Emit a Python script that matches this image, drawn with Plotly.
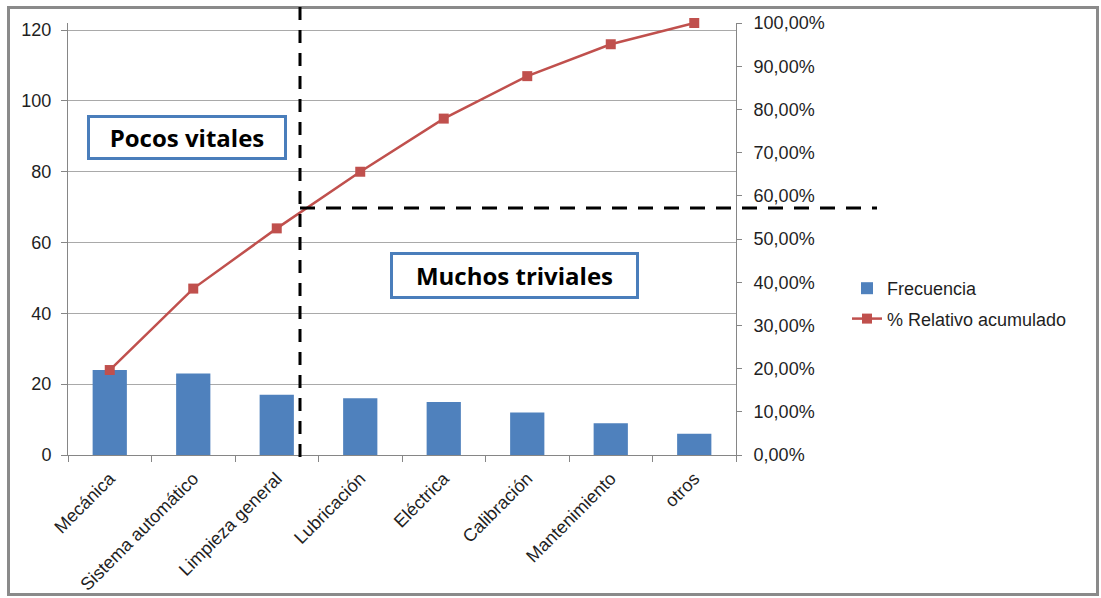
import plotly.graph_objects as go

# Pareto data: failure causes, frequency and cumulative relative percentage
categorias = ["Mecánica", "Sistema automático", "Limpieza general", "Lubricación",
              "Eléctrica", "Calibración", "Mantenimiento", "otros"]
frecuencia = [24, 23, 17, 16, 15, 12, 9, 6]
porcentaje_acumulado = [0.1967, 0.3852, 0.5246, 0.6557, 0.7787, 0.8770, 0.9508, 1.0000]
ticks_frecuencia = [0, 20, 40, 60, 80, 100, 120]

W, H = 1101, 598
L, R, T, B = 68, 736, 23, 455  # plot area in pixels


def px(x):
    return (x - L) / (R - L)


def py(y):
    return (B - y) / (B - T)


FONT = "Liberation Sans, Arial, sans-serif"
BOX_FONT = "Open Sans, sans-serif"
TXT = "#1f1f1f"
AXIS = "#868686"
GRID = "#a9a9a9"

fig = go.Figure()
fig.add_trace(go.Bar(
    x=categorias, y=frecuencia, name="Frecuencia",
    marker=dict(color="#4f81bd", line=dict(color="#4f81bd", width=0)),
    width=0.41, legendgroup="a",
))
fig.add_trace(go.Scatter(
    x=categorias, y=porcentaje_acumulado, name="% Relativo acumulado", yaxis="y2",
    mode="lines+markers",
    line=dict(color="#c0504d", width=2.5),
    marker=dict(symbol="square", size=10, color="#c0504d"),
    cliponaxis=False,
    legendgroup="b",
))

shapes = [
    # outer frame
    dict(type="rect", xref="paper", yref="paper",
         x0=px(8.5), x1=px(1097.5), y0=py(594.5), y1=py(7.5),
         line=dict(color="#8a8a8a", width=3), layer="above"),
    # vertical divider
    dict(type="line", xref="paper", yref="paper",
         x0=px(300), x1=px(300), y0=py(457), y1=py(6),
         line=dict(color="black", width=3, dash="13px,10px"), layer="above"),
    # horizontal divider
    dict(type="line", xref="paper", yref="paper",
         x0=px(300), x1=px(877), y0=py(208), y1=py(208),
         line=dict(color="black", width=3, dash="15px,11px"), layer="above"),
]

annotations = [
    dict(text="<b>Pocos vitales</b>", xref="paper", yref="paper",
         x=px(187), y=py(137.5), xanchor="center", yanchor="middle", showarrow=False,
         font=dict(family=BOX_FONT, size=24, color="black"),
         bgcolor="white", bordercolor="#4a7ebb", borderwidth=3, borderpad=0,
         width=194, height=39),
    dict(text="<b>Muchos triviales</b>", xref="paper", yref="paper",
         x=px(514.5), y=py(275.5), xanchor="center", yanchor="middle", showarrow=False,
         font=dict(family=BOX_FONT, size=24, color="black"),
         bgcolor="white", bordercolor="#4a7ebb", borderwidth=3, borderpad=0,
         width=243, height=41),
]

fig.update_layout(
    width=W, height=H,
    margin=dict(l=L, r=W - R, t=T, b=H - B, pad=0, autoexpand=False),
    paper_bgcolor="white", plot_bgcolor="white",
    separators=", ",
    font=dict(family=FONT, size=18, color=TXT),
    showlegend=True,
    legend=dict(x=px(847), y=py(270), xanchor="left", yanchor="top",
                font=dict(family=FONT, size=18, color=TXT),
                bgcolor="rgba(0,0,0,0)", tracegroupgap=4, itemwidth=30),
    bargap=0.59,
    xaxis=dict(type="category", range=[-0.5, 7.5], showline=True, linecolor=AXIS,
               linewidth=1, ticks="outside", tickson="boundaries", ticklen=6,
               tickcolor=AXIS, tickangle=-45, showgrid=False, zeroline=False,
               ticklabelstandoff=5, automargin=False,
               tickfont=dict(family=FONT, size=18, color=TXT)),
    yaxis=dict(range=[0, 122], tickvals=ticks_frecuencia, showline=True, linecolor=AXIS,
               ticks="outside", ticklen=6, tickcolor=AXIS, showgrid=True,
               gridcolor=GRID, gridwidth=1, zeroline=False,
               ticklabelstandoff=6, automargin=False,
               tickfont=dict(family=FONT, size=18, color=TXT)),
    yaxis2=dict(range=[0, 1], dtick=0.1, tickformat=".2%", overlaying="y", side="right",
                showline=True, linecolor=AXIS, ticks="outside", ticklen=5,
                tickcolor=AXIS, showgrid=False, zeroline=False,
                ticklabelstandoff=8, automargin=False,
                tickfont=dict(family=FONT, size=18, color=TXT)),
    shapes=shapes,
    annotations=annotations,
)

fig.write_html("out.html")
